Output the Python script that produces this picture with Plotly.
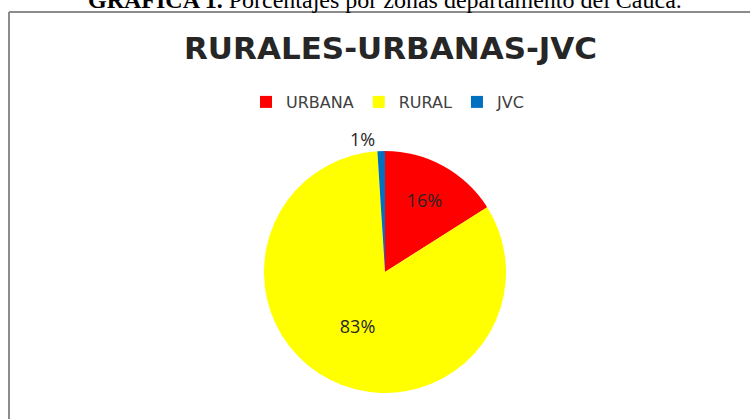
import plotly.graph_objects as go

# zonas del departamento del Cauca
zonas = ["URBANA", "RURAL", "JVC"]
valores = [16, 83, 1]
colores = ["#FF0000", "#FFFF00", "#0070C0"]
posiciones = ["inside", "inside", "outside"]

titulo = "RURALES-URBANAS-JVC"
leyenda_fig = "<b>GRAFICA 1.</b> Porcentajes por zonas departamento del Cauca."

W, H = 750, 419
R = 121  # radio del pie en px

fig = go.Figure()
fig.add_trace(go.Pie(
    labels=zonas,
    values=valores,
    sort=False,
    direction="clockwise",
    rotation=0,
    marker=dict(colors=colores, line=dict(width=0)),
    textinfo="percent",
    textposition=posiciones,
    insidetextorientation="horizontal",
    textfont=dict(family="Open Sans", size=18, color="#262626"),
    domain=dict(x=[(385 - R) / W, (385 + R) / W],
                y=[(H - 272 - R) / H, (H - 272 + R) / H]),
    hoverinfo="label+percent",
))

# caption arriba (cortado en el original)
fig.add_annotation(
    text=leyenda_fig, xref="paper", yref="paper", x=385 / W, y=1,
    xanchor="center", yanchor="bottom", yshift=-15, showarrow=False,
    font=dict(family="Liberation Serif", size=24, color="#000000"),
)

# titulo del grafico
fig.add_annotation(
    text="<b>" + titulo + "</b>", xref="paper", yref="paper", x=390 / W,
    y=1 - 48 / H, xanchor="center", yanchor="middle", showarrow=False,
    font=dict(family="DejaVu Sans", size=31, color="#262626"),
)

# marco del grafico
fig.add_shape(type="line", xref="paper", yref="paper", x0=9 / W, x1=1.01,
              y0=1 - 12 / H, y1=1 - 12 / H, line=dict(color="#8c8c8c", width=2))
fig.add_shape(type="line", xref="paper", yref="paper", x0=9 / W, x1=9 / W,
              y0=-0.01, y1=1 - 12 / H, line=dict(color="#8c8c8c", width=2))

fig.update_layout(
    width=W, height=H,
    margin=dict(l=0, r=0, t=0, b=0),
    paper_bgcolor="white",
    plot_bgcolor="white",
    showlegend=True,
    legend=dict(orientation="h", x=388 / W, xanchor="center",
                y=1 - 102 / H, yanchor="middle",
                font=dict(family="DejaVu Sans", size=16, color="#404040"),
                itemwidth=30, traceorder="normal"),
)

# sin margen del body para que la figura empiece en 0,0
fig.write_html("out.html", config={"displayModeBar": False},
               post_script="document.body.style.margin='0';")
